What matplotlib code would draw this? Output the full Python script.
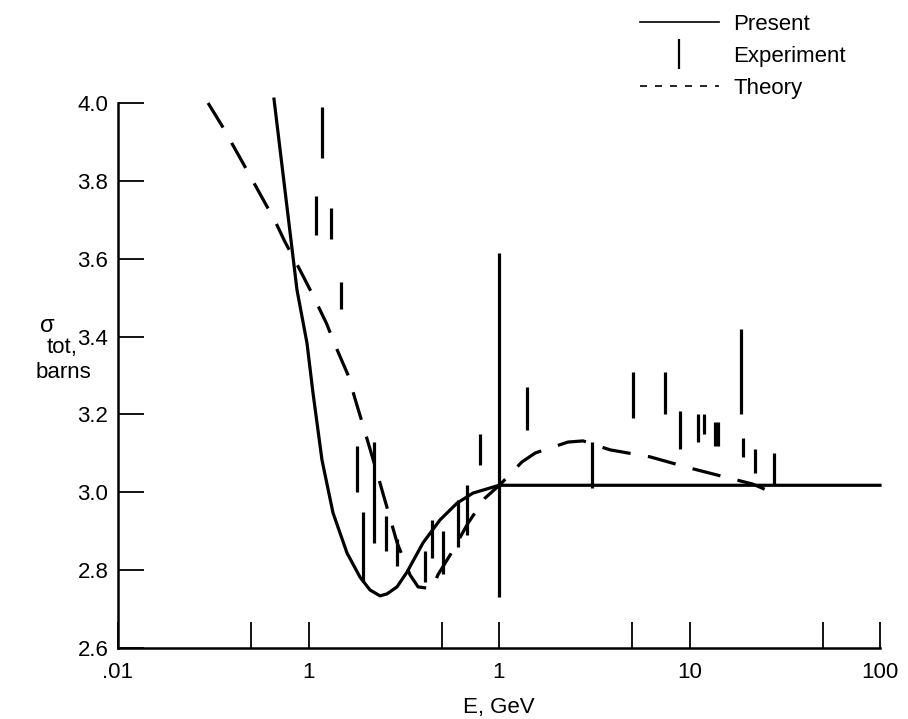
import matplotlib

matplotlib.use("Agg")
import matplotlib.pyplot as plt
import matplotlib.ticker as ticker
from matplotlib.lines import Line2D

plt.rcParams["font.family"] = ["Liberation Sans", "DejaVu Sans"]

# "Present" calculation (solid line)
present_e = [0.0659, 0.0870, 0.0982, 0.1056, 0.1177, 0.1345, 0.1593, 0.1864,
             0.2103, 0.2373, 0.2583, 0.2915, 0.3289, 0.3990, 0.4900, 0.6020,
             0.7302, 0.8971, 1.0, 100.0]
present_sigma = [4.010, 3.520, 3.383, 3.255, 3.083, 2.947, 2.844, 2.782,
                 2.749, 2.734, 2.739, 2.757, 2.795, 2.870, 2.929, 2.972,
                 2.998, 3.011, 3.018, 3.018]

# "Theory" (dashed line)
theory_e = [0.0297, 0.0352, 0.0406, 0.0487, 0.0550, 0.0667, 0.0753, 0.0902,
            0.104, 0.124, 0.138, 0.163, 0.175, 0.193, 0.229, 0.292, 0.341,
            0.376, 0.445, 0.478, 0.567, 0.688, 0.844, 1.01, 1.32, 1.55, 2.30,
            2.76, 3.83, 6.21, 10.1, 13.3, 21.5, 29.2]
theory_sigma = [4.000, 3.941, 3.887, 3.818, 3.771, 3.697, 3.643, 3.571,
                3.512, 3.435, 3.378, 3.296, 3.242, 3.173, 3.050, 2.870, 2.788,
                2.757, 2.752, 2.788, 2.847, 2.921, 2.985, 3.019, 3.078, 3.101,
                3.129, 3.132, 3.109, 3.091, 3.062, 3.047, 3.021, 2.993]

# "Experiment" (vertical bars: energy, low, high)
exp_e = [0.1095, 0.1177, 0.1313, 0.1481, 0.1797, 0.1932, 0.2207, 0.2552,
         0.2915, 0.4088, 0.4449, 0.5082, 0.6093, 0.6793, 0.7949, 1.0, 1.403,
         3.077, 5.051, 7.435, 8.915, 11.08, 11.92, 13.6, 14.1, 18.6, 19.1,
         22.1, 27.8]
exp_lo = [3.66, 3.86, 3.65, 3.47, 3.00, 2.77, 2.87, 2.85, 2.81, 2.77, 2.83,
          2.79, 2.86, 2.89, 3.07, 2.73, 3.16, 3.01, 3.19, 3.20, 3.11, 3.13,
          3.15, 3.12, 3.12, 3.20, 3.09, 3.05, 3.02]
exp_hi = [3.76, 3.99, 3.73, 3.54, 3.12, 2.95, 3.13, 2.94, 2.88, 2.85, 2.93,
          2.90, 2.98, 3.02, 3.15, 3.615, 3.27, 3.13, 3.31, 3.31, 3.21, 3.20,
          3.20, 3.18, 3.18, 3.42, 3.14, 3.11, 3.10]

x_major = [0.01, 0.1, 1, 10, 100]
x_labels = [".01", "1", "1", "10", "100"]
x_minor = [0.05, 0.5, 5, 50]
y_ticks = [2.6, 2.8, 3.0, 3.2, 3.4, 3.6, 3.8, 4.0]

fs = 16

fig = plt.figure(figsize=(9.08, 7.19), dpi=100)
ax = fig.add_axes([118 / 908, 71 / 719, 762 / 908, 545 / 719])

lw = 2.3
ax.plot(present_e, present_sigma, color="black", lw=lw, clip_on=False)
ax.plot(theory_e, theory_sigma, color="black", lw=lw, dashes=(9, 5.5),
        clip_on=False)
ax.vlines(exp_e, exp_lo, exp_hi, color="black", lw=lw, clip_on=False)

ax.set_xscale("log")
ax.set_xlim(0.01, 100)
ax.set_ylim(2.6, 4.0)
ax.xaxis.set_major_locator(ticker.FixedLocator(x_major))
ax.xaxis.set_major_formatter(ticker.FixedFormatter(x_labels))
ax.xaxis.set_minor_locator(ticker.FixedLocator(x_minor))
ax.xaxis.set_minor_formatter(ticker.NullFormatter())
ax.set_yticks(y_ticks)
ax.yaxis.set_major_formatter(ticker.FormatStrFormatter("%.1f"))

ax.tick_params(axis="both", which="both", direction="in", length=19,
               width=1.3, labelsize=fs)
ax.tick_params(axis="x", which="major", pad=10)
ax.tick_params(axis="y", which="major", pad=7)

for side in ("top", "right"):
    ax.spines[side].set_visible(False)
for side in ("left", "bottom"):
    ax.spines[side].set_linewidth(1.8)

ax.set_xlabel("E, GeV", fontsize=fs, labelpad=10)

fig.text(40 / 908, 1 - 326 / 719, "σ", fontsize=17, ha="left", va="center")
fig.text(47 / 908, 1 - 348 / 719, "tot,", fontsize=fs, ha="left",
         va="center")
fig.text(36 / 908, 1 - 373 / 719, "barns", fontsize=fs, ha="left",
         va="center")

handles = [
    Line2D([], [], color="black", lw=1.2),
    Line2D([], [], color="black", ls="none", marker="|", markersize=22,
           markeredgewidth=1.6),
    Line2D([], [], color="black", lw=1.2, dashes=(4.2, 4.8)),
]
fig.legend(handles, ["Present", "Experiment", "Theory"], loc="upper left",
           bbox_to_anchor=(640 / 908, 1 - 14 / 719), frameon=False,
           fontsize=fs, handlelength=3.55, handletextpad=0.65,
           labelspacing=0.5, borderpad=0, borderaxespad=0)

fig.savefig("out.png")
plt.close(fig)
